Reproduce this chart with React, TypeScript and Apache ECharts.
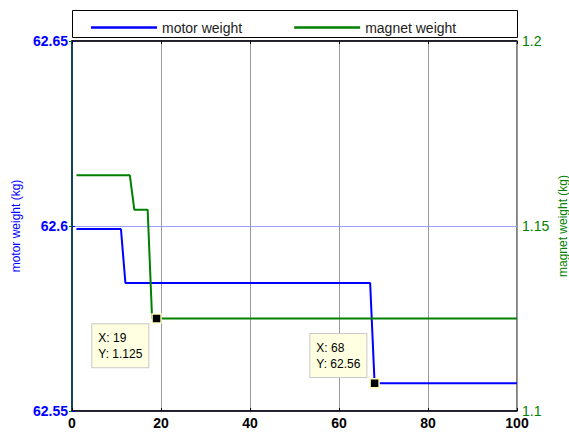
import React, { useEffect, useRef } from 'react';
import * as echarts from 'echarts';

const motorX = [1, 11, 12, 67, 68, 100];
const motorY = [62.5992, 62.5992, 62.5846, 62.5846, 62.5575, 62.5575];
const magnetX = [1, 13, 14, 17, 18, 100];
const magnetY = [1.1637, 1.1637, 1.1544, 1.1544, 1.125, 1.125];
const xTicks = [0, 20, 40, 60, 80, 100];
const motorTicks = [62.55, 62.6, 62.65];
const magnetTicks = [1.1, 1.15, 1.2];
const tipMagnet = { x: 19, y: 1.125, text: 'X: 19\nY: 1.125' };
const tipMotor = { x: 68, y: 62.5575, text: 'X: 68\nY: 62.56' };

const step = (a: number[]) => Number((a[1] - a[0]).toFixed(6));
const fmt = (v: number) => String(Number(v.toFixed(4)));
const FONT = 'Liberation Sans, Arial, sans-serif';

const tipLabel = (text: string, pos: number[]) => ({
  show: true,
  formatter: text,
  position: pos,
  align: 'left',
  verticalAlign: 'top',
  color: '#000',
  fontSize: 12,
  fontFamily: FONT,
  lineHeight: 16,
  backgroundColor: '#ffffe1',
  borderColor: '#c8c8c8',
  borderWidth: 1,
  padding: [6, 6, 5, 6],
});

export default function App() {
  const ref = useRef<HTMLDivElement>(null);
  useEffect(() => {
    if (!ref.current) return;
    const chart = echarts.init(ref.current, undefined, { renderer: 'svg' });
    chart.setOption({
      animation: false,
      textStyle: { fontFamily: FONT },
      graphic: [
        {
          type: 'rect',
          shape: { x: 72.5, y: 10.5, width: 445, height: 27 },
          style: { fill: '#fff', stroke: '#000', lineWidth: 1 },
          z: 0,
        },
      ],
      legend: {
        left: 86,
        top: 15.5,
        icon: 'rect',
        itemWidth: 66,
        itemHeight: 2.5,
        itemGap: 52,
        textStyle: { fontSize: 14, color: '#222', fontFamily: FONT },
        data: ['motor weight', 'magnet weight'],
        z: 5,
      },
      grid: {
        left: 72,
        right: 52,
        top: 41,
        bottom: 21,
        show: true,
        borderColor: '#000',
        borderWidth: 1,
        containLabel: false,
        outerBoundsMode: 'none',
      },
      xAxis: [
        {
          type: 'value',
          min: xTicks[0],
          max: xTicks[xTicks.length - 1],
          interval: step(xTicks),
          axisLine: { show: true, lineStyle: { color: '#000', width: 1.5 } },
          axisTick: { show: true, inside: true, length: 3, lineStyle: { color: '#000' } },
          axisLabel: { color: '#000', fontSize: 14, fontWeight: 'bold', margin: 5, fontFamily: FONT },
          splitLine: { show: true, lineStyle: { color: '#999', width: 1 } },
        },
        {
          type: 'value',
          position: 'top',
          min: xTicks[0],
          max: xTicks[xTicks.length - 1],
          interval: step(xTicks),
          axisLine: { show: true, lineStyle: { color: '#000', width: 1.5 } },
          axisTick: { show: true, inside: true, length: 3, lineStyle: { color: '#000' } },
          axisLabel: { show: false },
          splitLine: { show: false },
        },
      ],
      yAxis: [
        {
          type: 'value',
          position: 'left',
          min: motorTicks[0],
          max: motorTicks[motorTicks.length - 1],
          interval: step(motorTicks),
          name: 'motor weight (kg)',
          nameLocation: 'middle',
          nameRotate: 90,
          nameGap: 50,
          nameMoveOverlap: false,
          nameTextStyle: { color: '#0000ff', fontSize: 12, fontFamily: FONT },
          axisLine: { show: true, lineStyle: { color: '#0000ff', width: 1.5 } },
          axisTick: { show: true, inside: true, length: 3, lineStyle: { color: '#0000ff' } },
          axisLabel: { color: '#0000ff', fontSize: 14, fontWeight: 'bold', margin: 4, formatter: fmt, fontFamily: FONT },
          splitLine: { show: true, lineStyle: { color: '#9f9fff', width: 1 } },
        },
        {
          type: 'value',
          position: 'right',
          min: magnetTicks[0],
          max: magnetTicks[magnetTicks.length - 1],
          interval: step(magnetTicks),
          name: 'magnet weight (kg)',
          nameLocation: 'middle',
          nameRotate: 90,
          nameGap: 40,
          nameMoveOverlap: false,
          nameTextStyle: { color: '#008000', fontSize: 12, fontFamily: FONT },
          axisLine: { show: true, lineStyle: { color: '#0b4f2a', width: 1.5 } },
          axisTick: { show: true, inside: true, length: 3, lineStyle: { color: '#008000' } },
          axisLabel: { color: '#008000', fontSize: 14, margin: 5, formatter: fmt, fontFamily: FONT },
          splitLine: { show: false },
        },
      ],
      series: [
        {
          name: 'motor weight',
          type: 'line',
          xAxisIndex: 0,
          yAxisIndex: 0,
          symbol: 'none',
          lineStyle: { color: '#0000ff', width: 2 },
          itemStyle: { color: '#0000ff' },
          data: motorX.map((x, i) => [x, motorY[i]]),
          markPoint: {
            symbol: 'rect',
            symbolSize: 9,
            itemStyle: { color: '#000', borderColor: '#ffffc0', borderWidth: 1.5 },
            label: tipLabel(tipMotor.text, [-59, -44]),
            data: [{ coord: [tipMotor.x, tipMotor.y] }],
            z: 10,
          },
          z: 3,
        },
        {
          name: 'magnet weight',
          type: 'line',
          xAxisIndex: 0,
          yAxisIndex: 1,
          symbol: 'none',
          lineStyle: { color: '#008000', width: 2 },
          itemStyle: { color: '#008000' },
          data: magnetX.map((x, i) => [x, magnetY[i]]),
          markPoint: {
            symbol: 'rect',
            symbolSize: 9,
            itemStyle: { color: '#000', borderColor: '#ffffc0', borderWidth: 1.5 },
            label: tipLabel(tipMagnet.text, [-59, 11]),
            data: [{ coord: [tipMagnet.x, tipMagnet.y] }],
            z: 10,
          },
          z: 4,
        },
      ],
    });
    return () => chart.dispose();
  }, []);
  return (
    <div
      ref={ref}
      style={{ position: 'fixed', left: 0, top: 0, width: 569, height: 432, background: '#fff' }}
    />
  );
}
